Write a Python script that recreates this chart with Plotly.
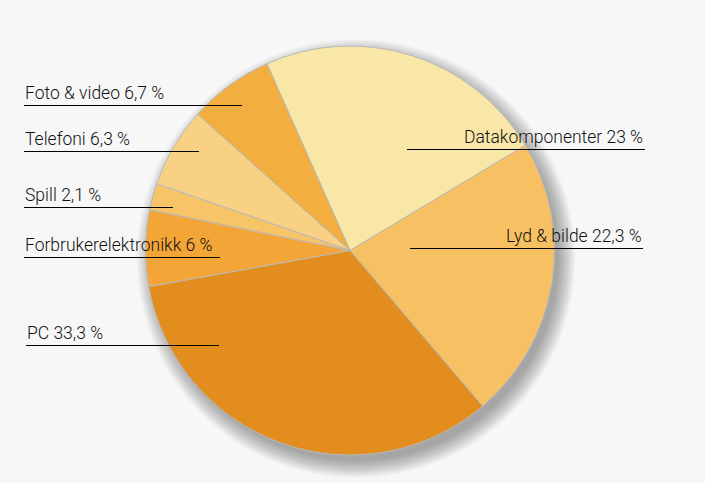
import plotly.graph_objects as go

W, H = 705, 483

categories = ["Datakomponenter", "Lyd & bilde", "PC", "Forbrukerelektronikk", "Spill", "Telefoni", "Foto & video"]
values = [23, 22.3, 33.3, 6, 2.1, 6.3, 6.7]
value_labels = ["23", "22,3", "33,3", "6", "2,1", "6,3", "6,7"]
colors = ["#F8E7A6", "#F7C163", "#E38D1E", "#F4A537", "#F7C468", "#F8D185", "#F3AE40"]

# label placement (pixels): text anchor x, line y, line x0, line x1, side
label_layout = {
    "Datakomponenter":      (644, 149, 407, 645, "right"),
    "Lyd & bilde":          (643, 248, 410, 643, "right"),
    "PC":                   (26, 345, 26, 219, "left"),
    "Forbrukerelektronikk": (24, 257, 24, 220, "left"),
    "Spill":                (24, 207, 24, 173, "left"),
    "Telefoni":             (24, 151, 24, 199, "left"),
    "Foto & video":         (24, 105, 24, 242, "left"),
}

cx, cy, r = 350, 250.5, 204.5

def px(x):
    return x / W

def py(y):
    return 1 - y / H

fig = go.Figure(go.Pie(
    labels=categories,
    values=values,
    sort=False,
    direction="clockwise",
    rotation=-24,
    marker=dict(colors=colors, line=dict(color="#B9B9B9", width=1)),
    textinfo="none",
    hoverinfo="label+percent",
    domain=dict(x=[px(cx - r), px(cx + r)], y=[py(cy + r), py(cy - r)]),
    showlegend=False,
))

shapes = []
# soft drop shadow
for i in range(18):
    rr = r - 2 + i * 1.0
    ox, oy = cx + 6, cy + 8
    shapes.append(dict(type="circle", xref="paper", yref="paper",
                       x0=px(ox - rr), x1=px(ox + rr), y0=py(oy + rr), y1=py(oy - rr),
                       fillcolor="rgba(0,0,0,0.02)", line=dict(width=0), layer="below"))

annotations = []
for cat, vl in zip(categories, value_labels):
    tx, ly, x0, x1, side = label_layout[cat]
    shapes.append(dict(type="line", xref="paper", yref="paper",
                       x0=px(x0), x1=px(x1), y0=py(ly + 0.5), y1=py(ly + 0.5),
                       line=dict(color="#000000", width=1), layer="above"))
    annotations.append(dict(
        text=f"{cat} {vl} %", xref="paper", yref="paper",
        x=px(tx), y=py(ly - 1), xanchor=side, yanchor="bottom",
        showarrow=False, font=dict(family="Roboto", size=17.5, color="#111111", weight=300),
        borderpad=0,
    ))

fig.update_layout(
    width=W, height=H,
    margin=dict(l=0, r=0, t=0, b=0),
    paper_bgcolor="#F7F7F7",
    shapes=shapes,
    annotations=annotations,
)

fig.write_html("out.html")
